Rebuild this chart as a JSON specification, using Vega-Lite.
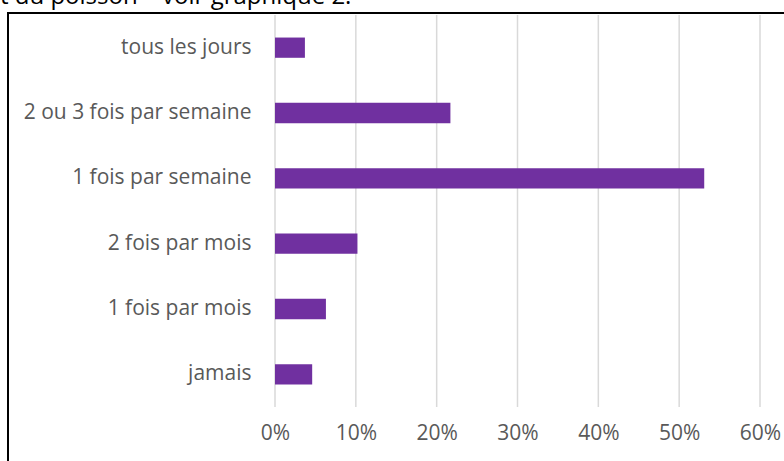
{
  "$schema": "https://vega.github.io/schema/vega-lite/v6.json",
  "width": 800,
  "height": 460,
  "autosize": {"type": "none"},
  "padding": {"left": 8, "top": 13, "right": 0, "bottom": 0},
  "background": "white",
  "config": {
    "view": {"stroke": "black", "strokeWidth": 2},
    "font": "Open Sans"
  },
  "title": {
    "text": "t du poisson – voir graphique 2.",
    "anchor": "start",
    "frame": "group",
    "fontSize": 24,
    "fontWeight": "normal",
    "color": "black",
    "font": "Open Sans",
    "baseline": "alphabetic",
    "offset": -15,
    "dx": -8
  },
  "datasets": {
    "bars": [
      {"freq": "tous les jours", "pct": 0.037},
      {"freq": "2 ou 3 fois par semaine", "pct": 0.217},
      {"freq": "1 fois par semaine", "pct": 0.531},
      {"freq": "2 fois par mois", "pct": 0.102},
      {"freq": "1 fois par mois", "pct": 0.063},
      {"freq": "jamais", "pct": 0.046}
    ],
    "grid": [
      {"tick": 0}, {"tick": 0.1}, {"tick": 0.2}, {"tick": 0.3},
      {"tick": 0.4}, {"tick": 0.5}, {"tick": 0.6}
    ]
  },
  "layer": [
    {
      "data": {"name": "grid"},
      "mark": {"type": "rule", "color": "#D9D9D9", "strokeWidth": 1.5},
      "encoding": {
        "x": {
          "field": "tick",
          "type": "quantitative",
          "scale": {"domain": [0, 0.6], "range": [267, 752], "nice": false, "zero": true},
          "axis": {
            "title": null,
            "orient": "top",
            "format": ".0%",
            "values": [0, 0.1, 0.2, 0.3, 0.4, 0.5, 0.6],
            "offset": -450,
            "domain": false,
            "ticks": false,
            "tickSize": 0,
            "labelFlush": false,
            "labelOverlap": false,
            "labelPadding": 20,
            "labelFontSize": 21,
            "labelColor": "#595959",
            "labelFont": "Open Sans",
            "grid": false
          }
        },
        "y": {"datum": 0, "type": "quantitative", "scale": {"domain": [0, 1], "range": [2, 394]}, "axis": null},
        "y2": {"datum": 1}
      }
    },
    {
      "data": {"name": "bars"},
      "mark": {"type": "bar", "color": "#7030A0"},
      "encoding": {
        "x": {"field": "pct", "type": "quantitative"},
        "y": {
          "field": "freq",
          "type": "nominal",
          "sort": null,
          "scale": {"range": [2, 394], "paddingInner": 0.69, "paddingOuter": 0.345},
          "axis": {
            "title": null,
            "orient": "left",
            "offset": -267,
            "domain": false,
            "ticks": false,
            "tickSize": 0,
            "labelPadding": 24,
            "labelFontSize": 21,
            "labelLimit": 400,
            "labelColor": "#595959",
            "labelFont": "Open Sans",
            "grid": false
          }
        }
      }
    }
  ],
  "resolve": {"scale": {"y": "independent"}}
}
